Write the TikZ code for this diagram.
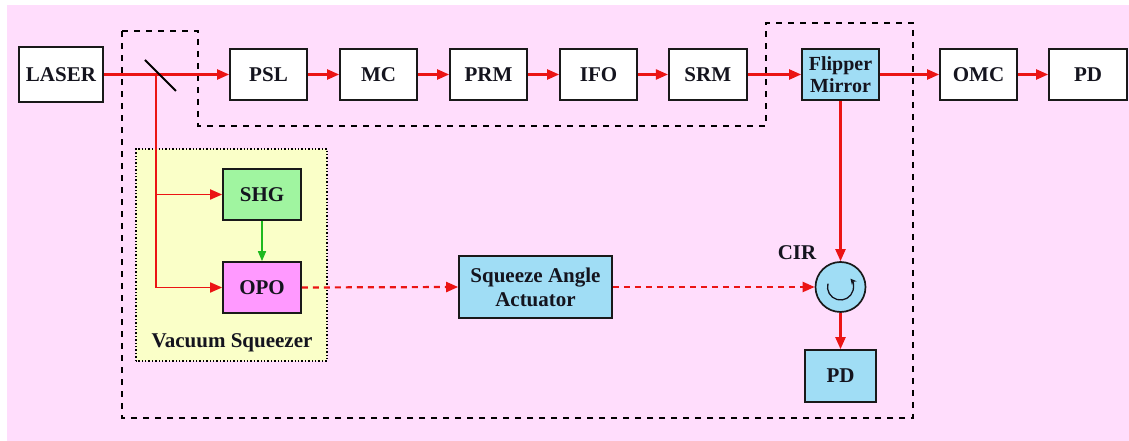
\documentclass[tikz,border=0pt]{standalone}
\usepackage{fontspec}
\setmainfont{Liberation Serif}
\usetikzlibrary{arrows.meta}
\definecolor{bgpink}{RGB}{255,221,252}
\definecolor{sqyellow}{RGB}{250,255,200}
\definecolor{shggreen}{RGB}{160,245,160}
\definecolor{opomag}{RGB}{255,153,255}
\definecolor{lblue}{RGB}{160,221,245}
\definecolor{beamred}{RGB}{235,20,20}
\definecolor{pumpgreen}{RGB}{30,185,30}
\definecolor{txt}{RGB}{20,20,30}
\tikzset{
  blk/.style={draw=black!90, line width=1.7pt, fill=white, inner sep=0pt,
    minimum width=77pt, minimum height=51pt, font=\fontsize{21}{24}\selectfont\bfseries, text=txt, align=center},
  beam/.style={draw=beamred, line width=2.2pt, -{Triangle[length=12pt,width=10pt]}},
  dbeam/.style={draw=beamred, line width=2.2pt, dash pattern=on 6pt off 5pt, -{Triangle[length=12pt,width=10pt]}},
  pump/.style={draw=pumpgreen, line width=1.6pt, -{Triangle[length=10pt,width=8pt]}},
  encl/.style={draw=black, line width=2.4pt, dash pattern=on 6pt off 6pt},
  lbl/.style={font=\fontsize{21}{24}\selectfont\bfseries, text=txt, inner sep=0pt}
}
\begin{document}
\begin{tikzpicture}[x=1pt,y=1pt]
\useasboundingbox (0,0) rectangle (1129,441);
\fill[white] (0,0) rectangle (1129,441);
\fill[bgpink] (7,0) rectangle (1129,436);
% vacuum squeezer enclosure
\draw[fill=sqyellow, draw=black, line width=1.4pt, dash pattern=on 1.4pt off 2pt] (136,80) rectangle (327,292);
\node[lbl] (vslbl) at (232,98) {Vacuum Squeezer};
% dashed enclosure
\draw[encl] (122,410) -- (198,410) -- (198,315) -- (766,315) -- (766,418) -- (913,418) -- (913,23) -- (122,23) -- cycle;
% top row
\node[blk, minimum width=84pt, minimum height=55pt] (laser) at (61,366.5) {LASER};
\node[blk] (psl) at (268.5,366.5) {PSL};
\node[blk] (mc) at (378.5,366.5) {MC};
\node[blk] (prm) at (488.5,366.5) {PRM};
\node[blk] (ifo) at (598.5,366.5) {IFO};
\node[blk, minimum width=78pt] (srm) at (707.8,366.5) {SRM};
\node[blk, fill=lblue, font=\fontsize{20}{22}\selectfont\bfseries] (fm) at (840.5,366.5) {Flipper\\Mirror};
\node[blk] (omc) at (978.5,366.5) {OMC};
\node[blk, minimum width=78pt] (pd) at (1088,366.5) {PD};
% squeezer
\node[blk, fill=shggreen, minimum width=78pt] (shg) at (262,246.5) {SHG};
\node[blk, fill=opomag, minimum width=78pt] (opo) at (262,153.5) {OPO};
\node[blk, fill=lblue, minimum width=153pt, minimum height=62pt] (saa) at (535.5,154) {Squeeze Angle\\Actuator};
\node[circle, draw=black!90, line width=1.7pt, fill=lblue, minimum size=50pt, inner sep=0pt] (cir) at (840.5,154) {};
\node[lbl] (cirlbl) at (797,188) {CIR};
\node[blk, fill=lblue, minimum width=71pt, minimum height=52pt] (pd2) at (840.5,65) {PD};
% beams
\coordinate (bs) at (156,366.5);
\draw[beam] (laser.east) -- (psl.west);
\draw[beam] (psl.east) -- (mc.west);
\draw[beam] (mc.east) -- (prm.west);
\draw[beam] (prm.east) -- (ifo.west);
\draw[beam] (ifo.east) -- (srm.west);
\draw[beam] (srm.east) -- (fm.west);
\draw[beam] (fm.east) -- (omc.west);
\draw[beam] (omc.east) -- (pd.west);
\draw[line width=1.8pt, draw=black] (145,381) -- (176,350);
\draw[beamred, line width=1.8pt, -{Triangle[length=12pt,width=10pt]}] (bs) |- (opo.west);
\draw[beamred, line width=1.8pt, -{Triangle[length=12pt,width=10pt]}] (bs |- shg.west) -- (shg.west);
\draw[pump] (shg.south) -- (opo.north);
\draw[dbeam] (opo.east) -- (saa.west);
\draw[dbeam] (saa.east) -- (cir.west);
\draw[beam] (fm.south) -- (cir.north);
\draw[beam] (cir.south) -- (pd2.north);
% circulator symbol
\draw[line width=1.3pt, draw=txt, -{Stealth[length=6pt,width=6pt]}] ([shift={(165:13pt)}]cir.center) arc[start angle=165, end angle=400, radius=13pt];
\end{tikzpicture}
\end{document}
